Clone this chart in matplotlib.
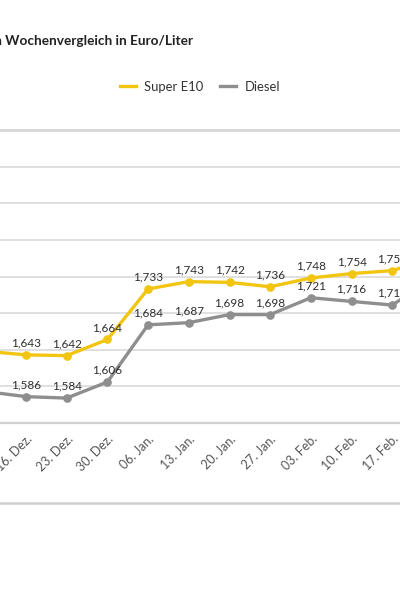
import matplotlib
matplotlib.use("Agg")
import matplotlib.pyplot as plt
from matplotlib.lines import Line2D

# ---- data ----
dates = ["09. Dez.", "16. Dez.", "23. Dez.", "30. Dez.", "06. Jan.", "13. Jan.",
         "20. Jan.", "27. Jan.", "03. Feb.", "10. Feb.", "17. Feb.", "24. Feb."]
super_e10 = [1.648, 1.643, 1.642, 1.664, 1.733, 1.743, 1.742, 1.736, 1.748, 1.754, 1.758, 1.776]
diesel = [1.593, 1.586, 1.584, 1.606, 1.684, 1.687, 1.698, 1.698, 1.721, 1.716, 1.711, 1.748]
series_names = ["Super E10", "Diesel"]
title = "Spritpreise im Wochenvergleich in Euro/Liter"

YELLOW = "#F2C511"
GREY = "#8E8E8E"
FONT = ["Lato", "DejaVu Sans"]
plt.rcParams["font.family"] = FONT

W, H = 400, 600
fig = plt.figure(figsize=(W / 100, H / 100), dpi=100)

# axes spanning the whole width (chart is cropped on both sides)
top_px, bot_px = 130, 423
ax = fig.add_axes([0, 1 - bot_px / H, 1, (bot_px - top_px) / H])

x = list(range(len(dates)))
ax.plot(x, super_e10, color=YELLOW, lw=2.4, marker="o", ms=5.2, zorder=3)
ax.plot(x, diesel, color=GREY, lw=2.4, marker="o", ms=5.2, zorder=3)

for series in (super_e10, diesel):
    for xi, v in zip(x, series):
        ax.annotate(f"{v:.3f}".replace(".", ","), (xi, v), xytext=(0, 12),
                    textcoords="offset pixels", ha="center", va="center",
                    fontsize=8.5, color="#2E2E2E", annotation_clip=False)

ax.set_xticks(x)
ax.set_xticklabels(dates, rotation=45, ha="right", rotation_mode="anchor",
                   fontsize=9, color="#555555")
ax.tick_params(axis="x", length=0, pad=7)

# pixel mapping: point i at x = -14.7 + 40.7*i
step = 40.7
x0 = -14.7
ax.set_xlim((0 - x0) / step, (W - x0) / step)
ax.set_yticks([1.55 + 0.05 * k for k in range(9)])
ax.set_ylim(1.55, 1.95)
ax.yaxis.grid(True, color="#DADADA", lw=1.2)
ax.set_axisbelow(True)
ax.tick_params(axis="y", length=0, labelleft=False)
for s in ["left", "right"]:
    ax.spines[s].set_visible(False)
ax.spines["top"].set_color("#D6D6D6")
ax.spines["top"].set_linewidth(2)
ax.spines["bottom"].set_color("#CFCFCF")
ax.spines["bottom"].set_linewidth(1.6)

# bottom separator line
fig.add_artist(Line2D([0, 1], [1 - 503 / H, 1 - 503 / H], color="#CFCFCF", lw=1.8,
                      transform=fig.transFigure))

# title (cropped on the left)
fig.text(193 / W, 1 - 41 / H, title, ha="right", va="center", fontsize=9.8,
         fontweight="bold", color="#222222")

# legend
handles = [Line2D([], [], color=YELLOW, lw=2.4), Line2D([], [], color=GREY, lw=2.4)]
fig.legend(handles, series_names, loc="center", bbox_to_anchor=(0.5, 1 - 87 / H),
           ncol=2, frameon=False, fontsize=9.4, handlelength=1.2, handletextpad=0.65,
           columnspacing=1.3, labelcolor="#333333")

fig.savefig("out.png", dpi=100, facecolor="white")
